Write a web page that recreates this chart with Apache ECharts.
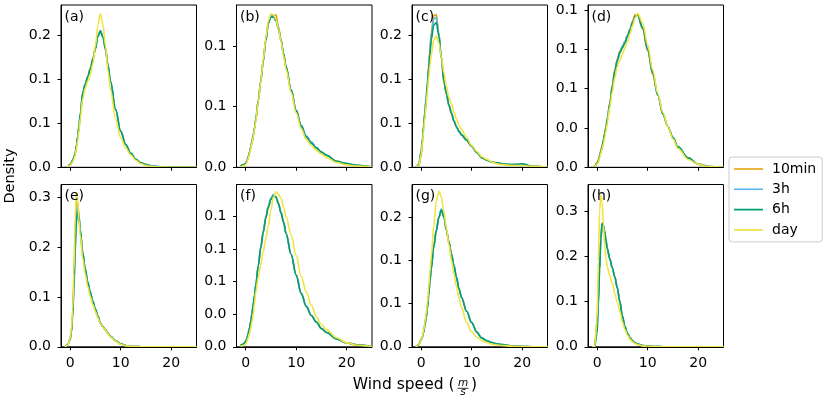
<!DOCTYPE html>
<html>
<head>
<meta charset="utf-8">
<script src="https://cdn.jsdelivr.net/npm/echarts@6/dist/echarts.min.js"></script>
<style>
  html, body { margin: 0; padding: 0; background: #fff; }
  #main { width: 831px; height: 402px; }
</style>
</head>
<body>
<div id="main"></div>
<script>
// wind speed grid (m/s) shared by all curves
var windSpeed = [-1, -0.5, 0, 0.25, 0.5, 0.75, 1, 1.25, 1.5, 1.75, 2, 2.5, 3, 3.5, 4, 4.5, 5, 5.5, 6, 6.5, 7, 7.5, 8, 9, 10, 11, 12, 13, 14, 15, 16, 18, 20, 22, 25];
var seriesNames = ['10min', '3h', '6h', 'day'];
var panelTags = ['(a)', '(b)', '(c)', '(d)', '(e)', '(f)', '(g)', '(h)'];
var xTicks = [0, 10, 20];

// (a)
var a10min = [0, 0.0005, 0.003, 0.005, 0.008, 0.011, 0.016, 0.024, 0.034, 0.046, 0.059, 0.084, 0.095, 0.104, 0.113, 0.124, 0.136, 0.150, 0.156, 0.149, 0.135, 0.116, 0.097, 0.065, 0.041, 0.026, 0.016, 0.009, 0.005, 0.003, 0.0015, 0.0005, 0.0002, 0.0001, 0];
var a3h = [0, 0.0005, 0.003, 0.005, 0.008, 0.011, 0.016, 0.024, 0.035, 0.047, 0.060, 0.085, 0.095, 0.103, 0.112, 0.123, 0.135, 0.150, 0.156, 0.148, 0.134, 0.116, 0.098, 0.066, 0.042, 0.026, 0.016, 0.009, 0.005, 0.003, 0.002, 0.0006, 0.0003, 0.0001, 0];
var a6h = [0, 0.0005, 0.003, 0.005, 0.008, 0.011, 0.016, 0.024, 0.035, 0.047, 0.060, 0.085, 0.095, 0.103, 0.112, 0.123, 0.135, 0.149, 0.155, 0.148, 0.135, 0.116, 0.098, 0.066, 0.041, 0.026, 0.016, 0.009, 0.005, 0.003, 0.0015, 0.0005, 0.0002, 0.0001, 0];
var aDay = [0, 0.0005, 0.002, 0.004, 0.006, 0.009, 0.014, 0.021, 0.030, 0.042, 0.055, 0.078, 0.090, 0.098, 0.106, 0.118, 0.138, 0.162, 0.175, 0.163, 0.138, 0.110, 0.088, 0.055, 0.034, 0.022, 0.014, 0.008, 0.004, 0.002, 0.001, 0.0003, 0.0001, 0, 0];
// (b)
var b10min = [0.001, 0.002, 0.003, 0.005, 0.008, 0.012, 0.016, 0.021, 0.026, 0.032, 0.039, 0.055, 0.071, 0.088, 0.105, 0.119, 0.124, 0.125, 0.126, 0.116, 0.105, 0.094, 0.083, 0.064, 0.047, 0.034, 0.025, 0.020, 0.016, 0.0125, 0.010, 0.005, 0.003, 0.0017, 0.0002];
var b3h = [0.001, 0.002, 0.003, 0.005, 0.008, 0.012, 0.016, 0.021, 0.026, 0.032, 0.039, 0.055, 0.071, 0.088, 0.105, 0.119, 0.125, 0.125, 0.122, 0.115, 0.105, 0.094, 0.083, 0.064, 0.047, 0.035, 0.026, 0.021, 0.016, 0.0125, 0.010, 0.005, 0.003, 0.0017, 0.0002];
var b6h = [0.001, 0.002, 0.003, 0.005, 0.008, 0.012, 0.016, 0.021, 0.026, 0.032, 0.039, 0.055, 0.071, 0.088, 0.105, 0.119, 0.124, 0.124, 0.121, 0.114, 0.105, 0.094, 0.083, 0.064, 0.047, 0.034, 0.025, 0.020, 0.016, 0.0125, 0.010, 0.005, 0.003, 0.0017, 0.0002];
var bDay = [0.0005, 0.001, 0.002, 0.004, 0.007, 0.011, 0.015, 0.020, 0.025, 0.031, 0.038, 0.054, 0.071, 0.089, 0.107, 0.121, 0.127, 0.126, 0.122, 0.114, 0.104, 0.092, 0.081, 0.062, 0.045, 0.032, 0.023, 0.018, 0.014, 0.011, 0.008, 0.004, 0.002, 0.001, 0.0001];
// (c)
var c10min = [0, 0.001, 0.012, 0.027, 0.044, 0.061, 0.078, 0.097, 0.116, 0.135, 0.153, 0.173, 0.174, 0.153, 0.124, 0.097, 0.083, 0.070, 0.061, 0.052, 0.046, 0.041, 0.037, 0.031, 0.024, 0.017, 0.011, 0.008, 0.006, 0.005, 0.004, 0.003, 0.003, 0.001, 0];
var c3h = [0, 0.002, 0.015, 0.030, 0.046, 0.062, 0.078, 0.096, 0.114, 0.132, 0.150, 0.169, 0.171, 0.153, 0.126, 0.099, 0.084, 0.071, 0.062, 0.053, 0.046, 0.041, 0.037, 0.031, 0.024, 0.017, 0.011, 0.008, 0.006, 0.005, 0.004, 0.003, 0.003, 0.001, 0];
var c6h = [0, 0.003, 0.018, 0.032, 0.048, 0.063, 0.078, 0.095, 0.112, 0.129, 0.145, 0.162, 0.165, 0.150, 0.126, 0.099, 0.085, 0.071, 0.062, 0.053, 0.046, 0.041, 0.037, 0.031, 0.024, 0.017, 0.011, 0.008, 0.006, 0.005, 0.004, 0.003, 0.004, 0.001, 0];
var cDay = [0, 0.002, 0.014, 0.028, 0.042, 0.057, 0.072, 0.087, 0.102, 0.116, 0.128, 0.145, 0.150, 0.142, 0.126, 0.108, 0.092, 0.080, 0.072, 0.063, 0.055, 0.048, 0.043, 0.034, 0.025, 0.018, 0.012, 0.009, 0.006, 0.004, 0.003, 0.002, 0.002, 0.001, 0];
// (d)
var d10min = [0, 0.0005, 0.003, 0.005, 0.008, 0.011, 0.014, 0.018, 0.022, 0.026, 0.031, 0.041, 0.052, 0.062, 0.069, 0.074, 0.077, 0.080, 0.084, 0.088, 0.093, 0.097, 0.097, 0.088, 0.074, 0.059, 0.046, 0.034, 0.026, 0.019, 0.013, 0.006, 0.002, 0.0005, 0];
var d3h = [0, 0.0005, 0.0025, 0.004, 0.007, 0.010, 0.013, 0.017, 0.021, 0.025, 0.030, 0.040, 0.051, 0.061, 0.068, 0.073, 0.077, 0.080, 0.084, 0.088, 0.092, 0.096, 0.097, 0.089, 0.075, 0.060, 0.046, 0.034, 0.026, 0.019, 0.013, 0.006, 0.002, 0.0005, 0];
var d6h = [0, 0.0005, 0.0025, 0.004, 0.007, 0.010, 0.013, 0.017, 0.021, 0.025, 0.030, 0.040, 0.051, 0.061, 0.068, 0.073, 0.076, 0.079, 0.083, 0.087, 0.092, 0.096, 0.097, 0.089, 0.075, 0.060, 0.046, 0.034, 0.026, 0.019, 0.013, 0.006, 0.002, 0.0005, 0];
var dDay = [0, 0.0003, 0.002, 0.003, 0.006, 0.009, 0.012, 0.015, 0.019, 0.023, 0.028, 0.038, 0.048, 0.057, 0.064, 0.068, 0.072, 0.076, 0.080, 0.085, 0.090, 0.095, 0.098, 0.092, 0.078, 0.062, 0.047, 0.035, 0.026, 0.018, 0.012, 0.005, 0.002, 0.0004, 0];
// (e)
var e10min = [0, 0.003, 0.014, 0.030, 0.065, 0.130, 0.220, 0.295, 0.290, 0.262, 0.232, 0.186, 0.154, 0.128, 0.108, 0.090, 0.075, 0.061, 0.047, 0.040, 0.034, 0.027, 0.021, 0.012, 0.006, 0.0025, 0.001, 0.0004, 0.0002, 0.0001, 0, 0, 0, 0, 0];
var e3h = [0, 0.003, 0.014, 0.030, 0.062, 0.122, 0.205, 0.275, 0.285, 0.262, 0.234, 0.188, 0.155, 0.129, 0.109, 0.091, 0.075, 0.061, 0.047, 0.040, 0.034, 0.027, 0.021, 0.012, 0.006, 0.0025, 0.001, 0.0004, 0.0002, 0.0001, 0, 0, 0, 0, 0];
var e6h = [0, 0.004, 0.015, 0.030, 0.060, 0.115, 0.190, 0.250, 0.274, 0.262, 0.237, 0.190, 0.157, 0.130, 0.110, 0.092, 0.076, 0.062, 0.047, 0.040, 0.034, 0.027, 0.021, 0.012, 0.006, 0.0025, 0.001, 0.0004, 0.0002, 0.0001, 0, 0, 0, 0, 0];
var eDay = [0, 0.003, 0.016, 0.035, 0.075, 0.150, 0.260, 0.310, 0.290, 0.255, 0.225, 0.178, 0.146, 0.121, 0.101, 0.085, 0.071, 0.058, 0.046, 0.039, 0.033, 0.026, 0.020, 0.011, 0.005, 0.002, 0.0008, 0.0003, 0.0001, 0, 0, 0, 0, 0, 0];
// (f)
var f10min = [0.001, 0.002, 0.004, 0.006, 0.010, 0.014, 0.019, 0.025, 0.032, 0.039, 0.047, 0.062, 0.077, 0.089, 0.100, 0.108, 0.114, 0.116, 0.115, 0.110, 0.103, 0.095, 0.087, 0.071, 0.055, 0.041, 0.031, 0.024, 0.019, 0.014, 0.011, 0.006, 0.003, 0.0015, 0.0003];
var f3h = [0.001, 0.002, 0.004, 0.006, 0.010, 0.014, 0.019, 0.025, 0.032, 0.039, 0.047, 0.062, 0.076, 0.088, 0.099, 0.108, 0.114, 0.117, 0.115, 0.110, 0.103, 0.096, 0.087, 0.071, 0.055, 0.041, 0.031, 0.024, 0.019, 0.014, 0.011, 0.006, 0.003, 0.0015, 0.0003];
var f6h = [0.001, 0.002, 0.004, 0.006, 0.010, 0.014, 0.019, 0.025, 0.032, 0.039, 0.047, 0.062, 0.076, 0.088, 0.099, 0.107, 0.113, 0.116, 0.115, 0.110, 0.103, 0.096, 0.087, 0.071, 0.055, 0.041, 0.031, 0.024, 0.019, 0.014, 0.011, 0.006, 0.003, 0.0015, 0.0003];
var fDay = [0.0005, 0.001, 0.002, 0.004, 0.007, 0.010, 0.014, 0.019, 0.025, 0.033, 0.042, 0.053, 0.063, 0.073, 0.083, 0.093, 0.105, 0.115, 0.119, 0.117, 0.114, 0.107, 0.100, 0.086, 0.070, 0.054, 0.042, 0.032, 0.023, 0.017, 0.013, 0.007, 0.003, 0.0012, 0.0002];
// (g)
var g10min = [0, 0.002, 0.009, 0.012, 0.017, 0.025, 0.034, 0.045, 0.060, 0.076, 0.090, 0.116, 0.135, 0.150, 0.158, 0.150, 0.135, 0.121, 0.107, 0.094, 0.080, 0.067, 0.057, 0.041, 0.028, 0.017, 0.010, 0.007, 0.005, 0.0035, 0.0025, 0.0012, 0.0004, 0.0001, 0];
var g3h = [0, 0.002, 0.008, 0.011, 0.017, 0.025, 0.034, 0.045, 0.060, 0.076, 0.091, 0.115, 0.134, 0.149, 0.159, 0.151, 0.135, 0.121, 0.107, 0.094, 0.080, 0.067, 0.057, 0.041, 0.028, 0.017, 0.010, 0.007, 0.005, 0.0035, 0.0025, 0.0012, 0.0004, 0.0001, 0];
var g6h = [0, 0.002, 0.008, 0.011, 0.017, 0.025, 0.034, 0.045, 0.060, 0.076, 0.090, 0.115, 0.134, 0.149, 0.158, 0.150, 0.135, 0.121, 0.107, 0.094, 0.080, 0.067, 0.057, 0.041, 0.028, 0.017, 0.010, 0.007, 0.005, 0.0035, 0.0025, 0.0012, 0.0004, 0.0001, 0];
var gDay = [0, 0.002, 0.008, 0.012, 0.019, 0.028, 0.038, 0.051, 0.068, 0.087, 0.104, 0.140, 0.168, 0.180, 0.173, 0.157, 0.137, 0.118, 0.100, 0.084, 0.069, 0.056, 0.045, 0.028, 0.017, 0.011, 0.007, 0.005, 0.003, 0.002, 0.0015, 0.0007, 0.0002, 0, 0];
// (h)
var h10min = [0, 0, 0.060, 0.120, 0.175, 0.242, 0.274, 0.268, 0.255, 0.235, 0.218, 0.195, 0.175, 0.155, 0.130, 0.100, 0.068, 0.045, 0.030, 0.020, 0.013, 0.009, 0.006, 0.003, 0.0015, 0.0008, 0.0004, 0.0002, 0.0001, 0, 0, 0, 0, 0, 0];
var h3h = [0, 0, 0.045, 0.105, 0.172, 0.241, 0.273, 0.268, 0.255, 0.235, 0.218, 0.195, 0.175, 0.155, 0.130, 0.100, 0.068, 0.045, 0.030, 0.020, 0.013, 0.009, 0.006, 0.003, 0.0015, 0.0008, 0.0004, 0.0002, 0.0001, 0, 0, 0, 0, 0, 0];
var h6h = [0, 0, 0.030, 0.090, 0.170, 0.240, 0.273, 0.268, 0.255, 0.235, 0.218, 0.195, 0.175, 0.155, 0.130, 0.100, 0.068, 0.045, 0.030, 0.020, 0.013, 0.009, 0.006, 0.003, 0.0015, 0.0008, 0.0004, 0.0002, 0.0001, 0, 0, 0, 0, 0, 0];
var hDay = [0, 0, 0.060, 0.190, 0.300, 0.335, 0.320, 0.270, 0.225, 0.195, 0.178, 0.158, 0.140, 0.118, 0.098, 0.078, 0.055, 0.038, 0.026, 0.017, 0.011, 0.007, 0.005, 0.002, 0.001, 0.0005, 0.0002, 0.0001, 0, 0, 0, 0, 0, 0, 0];

// y ticks per panel and the labels printed next to them
var yTicks = [
  [0, 0.05, 0.1, 0.15], [0, 0.05, 0.1], [0, 0.05, 0.1, 0.15], [0, 0.025, 0.05, 0.075, 0.1],
  [0, 0.1, 0.2, 0.3], [0, 0.025, 0.05, 0.075, 0.1], [0, 0.05, 0.1, 0.15], [0, 0.1, 0.2, 0.3]
];
var yTickLabels = [
  ['0.0', '0.1', '0.1', '0.2'], ['0.0', '0.1', '0.1'], ['0.0', '0.1', '0.1', '0.2'], ['0.0', '0.0', '0.1', '0.1', '0.1'],
  ['0.0', '0.1', '0.2', '0.3'], ['0.0', '0.0', '0.1', '0.1', '0.1'], ['0.0', '0.1', '0.1', '0.2'], ['0.0', '0.1', '0.2', '0.3']
];
var yMax = [0.185, 0.134, 0.185, 0.1033, 0.326, 0.1246, 0.1875, 0.359];

var panelData = [
  [a10min, a3h, a6h, aDay], [b10min, b3h, b6h, bDay], [c10min, c3h, c6h, cDay], [d10min, d3h, d6h, dDay],
  [e10min, e3h, e6h, eDay], [f10min, f3h, f6h, fDay], [g10min, g3h, g6h, gDay], [h10min, h3h, h6h, hDay]
];

var colors = ['#E69F00', '#56B4E9', '#009E73', '#F0E442'];
var font = 'DejaVu Sans';

// layout
var lefts = [61, 236.5, 412, 588];
var tops = [5, 184.5];
var W = 135.5, H = 162.3;

// plain line for the legend keys (the two dots fix the box so the bar sits in the middle)
var legendLine = 'path://M0,0L0.01,0M0,14L0.01,14M0,6.2L29,6.2L29,7.8L0,7.8Z';

var chart = echarts.init(document.getElementById('main'), null, { renderer: 'canvas' });

var grids = [], xAxes = [], yAxes = [], series = [], graphics = [];
panelData.forEach(function (curves, p) {
  var row = Math.floor(p / 4), col = p % 4;
  grids.push({
    left: lefts[col], top: tops[row], width: W, height: H,
    show: true, borderColor: '#000', borderWidth: 1, backgroundColor: 'transparent'
  });
  xAxes.push({
    gridIndex: p, type: 'value', min: -1.8, max: 25, z: 10,
    axisLine: { show: true, onZero: false, lineStyle: { color: '#000', width: 1 } },
    axisTick: { show: true, customValues: xTicks, length: 3.5, lineStyle: { color: '#000', width: 1 } },
    axisLabel: { show: row === 1, customValues: xTicks, fontSize: 14, color: '#000', fontFamily: font, margin: 9.5 },
    splitLine: { show: false }
  });
  var ticks = yTicks[p], labs = yTickLabels[p];
  yAxes.push({
    gridIndex: p, type: 'value', min: 0, max: yMax[p], z: 10,
    axisLine: { show: true, onZero: false, lineStyle: { color: '#000', width: 1 } },
    axisTick: { show: true, customValues: ticks, length: 3.5, lineStyle: { color: '#000', width: 1 } },
    axisLabel: {
      customValues: ticks, fontSize: 14, color: '#000', fontFamily: font, margin: 10,
      formatter: function (v) {
        var i = ticks.indexOf(v);
        return i >= 0 ? labs[i] : '';
      }
    },
    splitLine: { show: false }
  });
  curves.forEach(function (vals, s) {
    series.push({
      name: seriesNames[s], type: 'line', xAxisIndex: p, yAxisIndex: p,
      data: windSpeed.map(function (x, i) { return [x, vals[i]]; }),
      symbol: 'none', showSymbol: false, smooth: 0.35, smoothMonotone: 'x',
      color: colors[s], lineStyle: { width: 1.6, color: colors[s] },
      clip: true, silent: true, animation: false, z: 2 + s
    });
  });
  graphics.push({
    type: 'text', z: 100,
    style: { text: panelTags[p], x: lefts[col] + 3.5, y: tops[row] + 12, fill: '#000', fontSize: 14, fontFamily: font, verticalAlign: 'middle' }
  });
});

// axis titles
graphics.push({
  type: 'text', z: 100, rotation: Math.PI / 2, x: 10, y: 176,
  style: { text: 'Density', x: 0, y: 0, fill: '#000', fontSize: 14.5, fontFamily: font, align: 'center', verticalAlign: 'middle' }
});
graphics.push({
  type: 'text', z: 100,
  style: { text: 'Wind speed (', x: 454.5, y: 385, fill: '#000', fontSize: 15.5, fontFamily: font, align: 'right', verticalAlign: 'middle' }
});
graphics.push({
  type: 'text', z: 100,
  style: { text: 'm', x: 463, y: 383.5, fill: '#000', fontSize: 10.5, fontStyle: 'italic', fontFamily: font, align: 'center', verticalAlign: 'middle' }
});
graphics.push({
  type: 'line', z: 100,
  shape: { x1: 457.5, y1: 388.3, x2: 468.5, y2: 388.3 },
  style: { stroke: '#000', lineWidth: 0.8 }
});
graphics.push({
  type: 'text', z: 100,
  style: { text: 's', x: 463, y: 392.5, fill: '#000', fontSize: 10.5, fontStyle: 'italic', fontFamily: font, align: 'center', verticalAlign: 'middle' }
});
graphics.push({
  type: 'text', z: 100,
  style: { text: ')', x: 471, y: 385, fill: '#000', fontSize: 15.5, fontFamily: font, align: 'left', verticalAlign: 'middle' }
});

var option = {
  animation: false,
  backgroundColor: '#fff',
  textStyle: { fontFamily: font },
  grid: grids,
  xAxis: xAxes,
  yAxis: yAxes,
  legend: {
    data: seriesNames,
    icon: legendLine,
    orient: 'vertical', left: 729, top: 157,
    padding: [5, 6, 5, 5], itemWidth: 29, itemHeight: 14, itemGap: 6.3,
    backgroundColor: '#fff', borderColor: '#cccccc', borderWidth: 1, borderRadius: 3,
    textStyle: { fontSize: 14, color: '#000', fontFamily: font, padding: [0, 0, 0, 4] }
  },
  series: series,
  graphic: graphics
};
chart.setOption(option);
</script>
</body>
</html>
